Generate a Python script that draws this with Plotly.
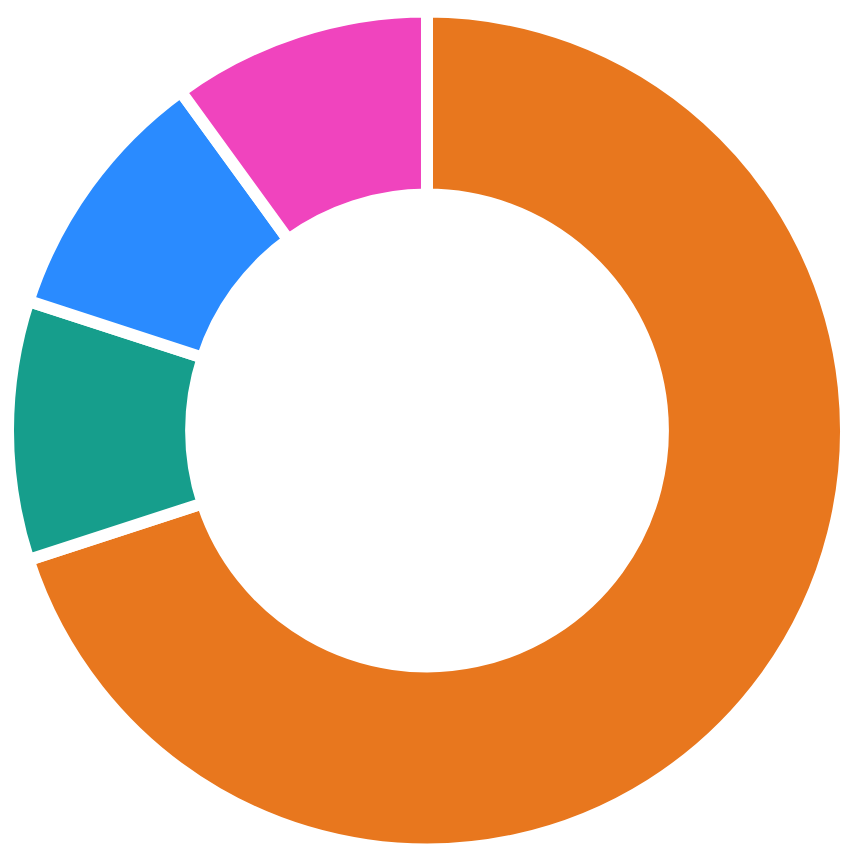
import plotly.graph_objects as go

labels = ['Orange', 'Teal', 'Blue', 'Pink']
values = [70, 10, 10, 10]
colors = ['#E8771E', '#169E8C', '#2A8BFF', '#F044BE']

fig = go.Figure()

fig.add_trace(go.Pie(
    labels=labels,
    values=values,
    hole=0.563,
    sort=False,
    direction='clockwise',
    rotation=0,
    textinfo='none',
    marker=dict(colors=colors, line=dict(color='white', width=12)),
    showlegend=False))

# page body adds an 8px margin, so size the figure to keep the ring centred
fig.update_layout(
    width=838,
    height=845,
    margin=dict(l=0, r=0, t=0, b=0),
    paper_bgcolor='white',
    plot_bgcolor='white')

fig.write_html("out.html")
